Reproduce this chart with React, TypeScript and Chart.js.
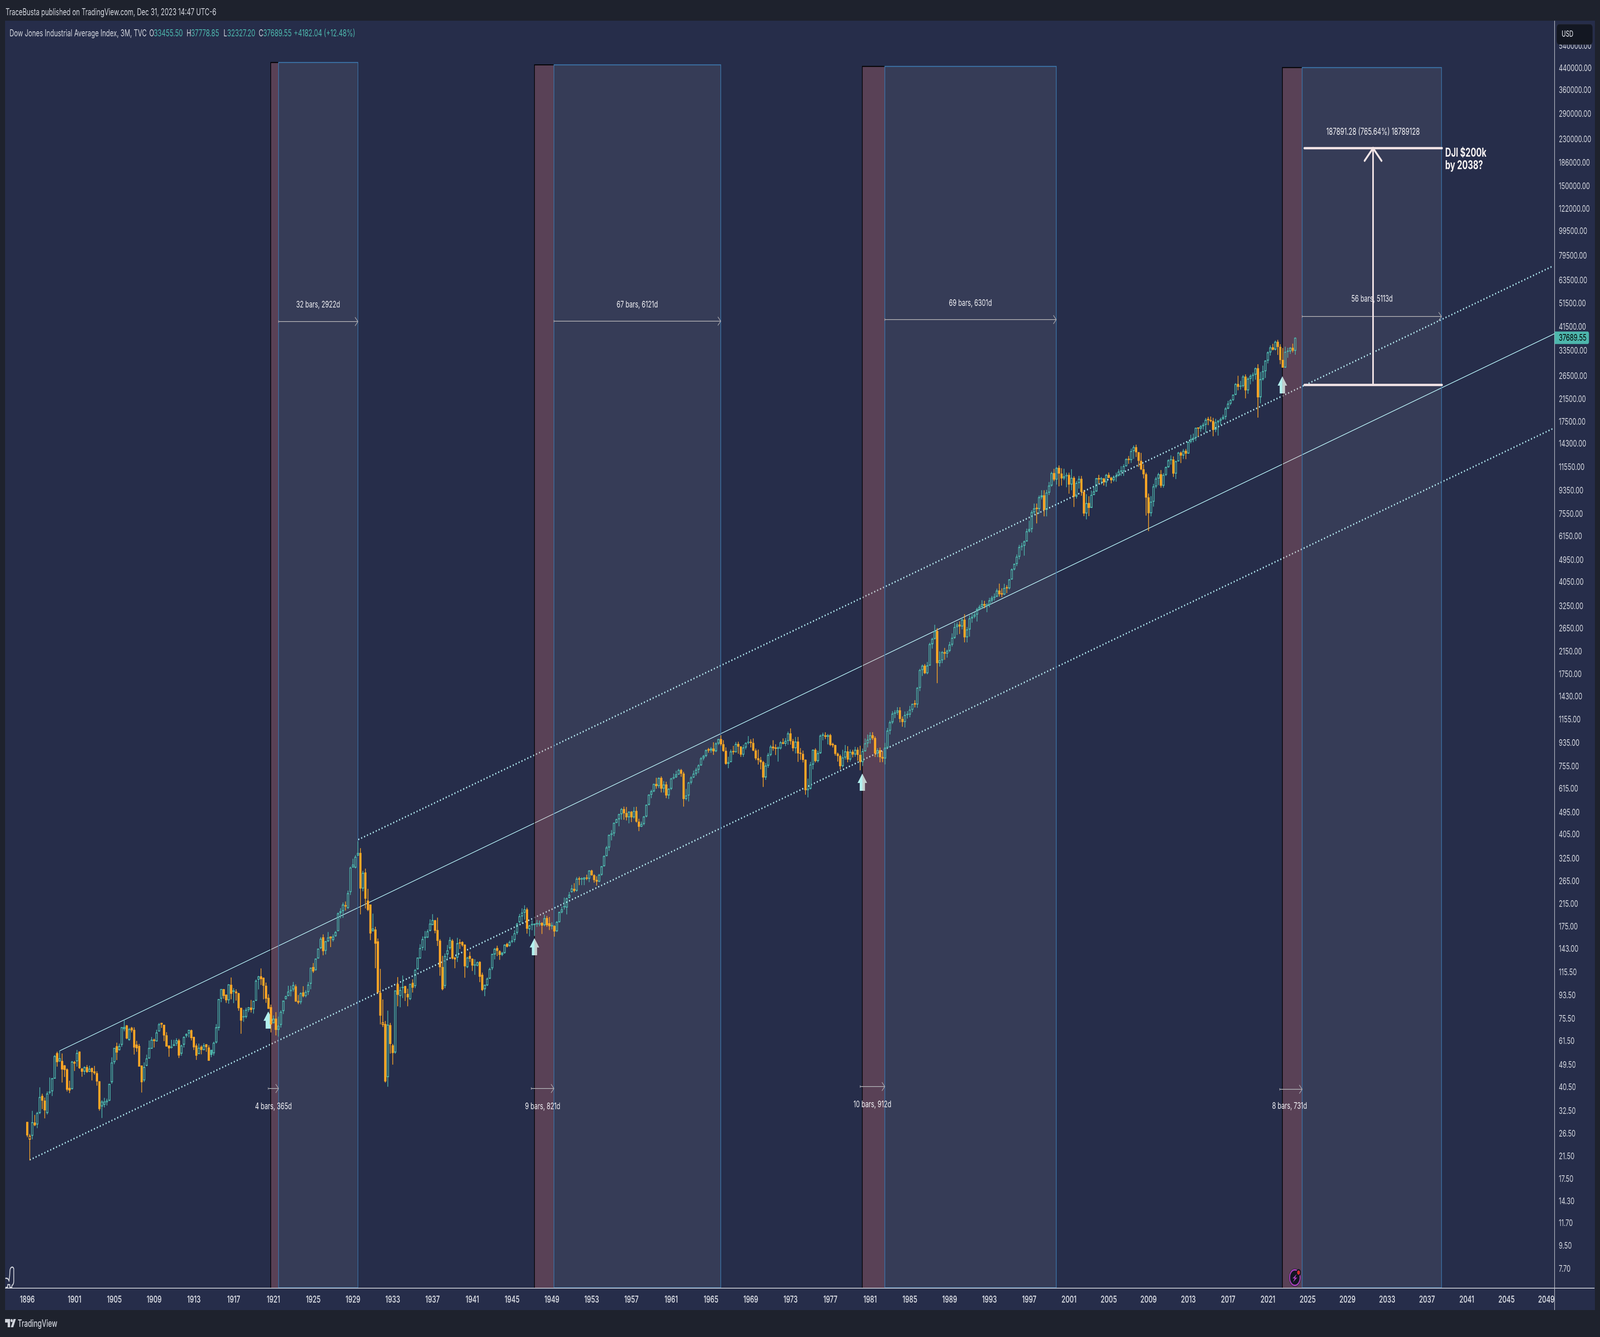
import React, { useEffect, useRef } from 'react';
import { Chart, registerables } from 'chart.js';
Chart.register(...registerables);

// Quarterly candles, [open, high, low, close]
const candles1896to1920 = [
[29.5,29.5,25.7,26.1],[25.1,26.4,20.8,26.0],[26.0,32.6,25.2,29.4],[29.3,31.4,28.4,28.6],[28.8,32.3,27.9,32.0],[32.0,40.4,31.7,37.0],[37.4,38.1,33.2,35.8],[35.8,36.8,30.5,32.8],[32.0,38.9,31.6,38.2],[38.5,44.2,38.0,38.7],
[39.0,44.0,37.4,43.9],[43.8,54.2,43.8,53.8],[55.2,55.9,48.9,50.9],[51.3,56.4,51.0,52.7],[51.4,55.0,42.3,47.6],[49.4,49.5,44.5,47.4],[47.6,48.0,39.0,39.6],[40.2,42.9,38.4,39.3],[39.8,51.4,39.7,51.1],[50.9,51.4,47.0,50.2],
[51.3,56.8,48.9,55.3],[56.0,56.0,47.9,48.2],[47.9,48.2,44.6,46.7],[46.7,48.9,45.4,48.6],[48.6,49.5,46.2,46.5],[46.6,49.2,46.5,47.9],[48.2,48.3,43.1,46.5],[46.8,49.1,45.4,46.0],[46.0,46.8,41.1,42.7],[42.7,42.7,32.7,33.2],
[34.0,35.9,30.6,35.5],[34.5,36.7,33.7,35.5],[35.3,36.4,34.3,35.8],[35.8,41.7,35.7,41.7],[42.4,53.1,41.8,50.7],[50.9,57.9,50.0,57.9],[58.8,60.7,51.9,55.6],[56.8,60.2,56.6,58.9],[59.6,70.0,58.6,70.0],[68.8,74.7,67.5,70.1],
[71.1,71.3,62.8,63.2],[62.3,69.5,61.9,68.8],[69.6,70.1,66.8,68.0],[68.3,69.8,54.6,58.2],[59.7,61.7,56.0,57.8],[58.9,60.0,48.9,48.9],[49.3,49.3,38.6,42.4],[43.1,50.7,42.5,48.7],[49.2,54.4,49.1,52.6],[52.6,61.9,52.6,57.9],
[57.5,63.9,57.5,62.4],[62.5,63.0,58.2,61.7],[61.5,68.3,61.5,66.7],[67.3,72.6,67.3,71.9],[72.8,72.8,69.6,71.7],[71.5,71.5,61.7,64.9],[65,66.8,58.7,58.7],[59.2,59.2,53.5,57.7],[58,62.3,57.7,58.6],[59,62.3,59,59.9],
[60.3,63.2,59.1,62.1],[62,62.8,52.9,54.1],[55,59.6,54,59.2],[59.7,64.3,58.2,64],[64.6,66,63.7,65.8],[66.1,68.3,63.9,68.2],[68.1,68.4,62.1,63.4],[64,64.1,56.9,58.3],[59.2,60.2,52,54],[54.8,60.2,54.8,58],
[58.5,59.2,54.7,56.9],[56.8,60.4,56.8,59.3],[59.9,59.9,56,58.4],[58.1,59.3,51.6,51.6],[56.9,56.9,53.3,54.4],[55.2,61.2,54.1,60.7],[60.9,71.9,60.4,69.9],[69.6,90.4,67.9,90.4],[90.8,99.1,88,99.1],[99,99,90.8,93.1],
[94,94.3,87.5,89.5],[89.5,103.5,86.8,103.4],[103,110,90.4,95],[96.7,99.8,87.3,96.9],[96.9,98.8,89.3,95.4],[95.3,95.7,81.4,83.2],[83.5,83.5,66,74.3],[76.6,82,73.6,76.9],[76.9,83.5,75.9,82],[81.8,84,80.4,83.9],
[83.7,89.6,80.1,82],[82.5,89,79.3,88.9],[89.1,108,89,106.9],[108,111.7,98.9,111.2],[111.3,119.5,103,108.5],[109.8,110,90.4,102.2],[102,105,87.5,90.8],[91.4,94.4,82.8,82.8],[84,85.9,66.8,71.8],
];
const candles1921to1951 = [
[72.6,77.8,72.6,75.6],[75.6,80.2,65,68.3],[68.3,77,64.3,71],[71.5,81.5,69.8,80.5],[81.1,89.1,79,89.1],[90.4,93.2,90.2,92.8],[93,102,93,96.9],[97.3,102,92.8,98.2],[98.8,105.6,97,102.8],[101.6,103.2,88.4,88.4],
[88.9,93.8,86.4,87.6],[87.9,96,86.4,95.5],[96.1,101.6,92,92.8],[93,98,92,96.5],[96.5,105.6,94,103.1],[104,120.4,99,120.4],[121,125.5,115,116.5],[117.8,130.8,117.2,130.8],[131,143.2,131,143.2],[144,159,143,156.8],
[158.8,163,135,140],[140.5,153.5,136,153.3],[153.3,166.6,152.5,158.6],[160,160,145.5,157.5],[155,163,153,160],[160.5,168,160,166.6],[168.2,199,168,197.7],[198,207,189,201.5],[202,218,190,214],[211,220,203,210.6],
[207.5,243,206,237.6],[240,302.5,234,300.2],[301,325,300,308.4],[300,336,298,331.3],[335,381.17,334,343],[343,358,196,248],[248,291,242,286],[287,297,207,226],[222,247,202,204],[214,214,155,164.6],
[168,197,168,172.1],[170.5,174.8,120,150],[153,157,95,96.2],[95.7,119,71.9,77.8],[71.5,90,70.2,73.2],[72,74,42.3,42.7],[44.4,81.3,40.7,71.6],[71.3,72.7,55.1,60.1],[59.3,60,49.8,55.3],[55.6,97.8,55,97.8],
[103.8,110.4,84.8,94],[93,101,84,98.3],[100,112,91.4,100.3],[101.8,102,89,95.5],[94.7,99.3,84.8,92],[90.4,104,89.7,103.8],[104.9,108.2,96.1,100.4],[101.8,118.8,100,118],[118.8,132,118.5,132],[131,149,131,144],
[144.3,160,141,156.3],[158,168,141,158.8],[158.6,170.5,158,167.8],[168.6,187,168,180],[177.8,196,177.5,186],[185.5,186,165,169],[169.7,190,147,154],[154,156,112,121],[121,134,98,99],[102,137,100,134],
[136,148,130,141],[144,159,142,155],[154,156,130,131],[132,133,120,130],[132,158,127,150.4],[151,156,143,150.1],[152,153,146,147.8],[148.5,149,110,122],[121,133,120,132],[134,139,127,130.8],
[130.5,131,117,122.8],[122.7,130,113,123.3],[122.7,127.3,122,126.5],[127,127.5,105.7,111],[112.9,115,97.4,98.3],[99,103,93,103],[102.5,110,102,109],[109,120.3,108.8,119],[119.8,136.5,118,136.5],[136,144,130,143],
[144,147,134,140.5],[140,141,129.5,135.5],[135.5,139,134,138],[137.7,149,137,148.4],[149.5,151,145,146],[147,154,146,152.2],[152.5,161,151,153.3],[155,169.4,152,164.8],[165.6,181,163,180],[182.5,196.5,181,192.6],
[192.3,206.7,180,199],[199,212.5,187,205],[205,208,164.5,172],[171,178,160.5,177],[177.5,185,169.6,178],[177.8,180,161,178.2],[181,186,175,179],[178.8,185,176,180.4],[181,182,164,177],[177.6,195,176,189],
[189.5,193,175,177.6],[180.4,191,170,176],[175.8,182,171,176.7],[176.3,177,160,167.7],[168,184,167,182.8],[182.5,200.5,182,200],[199.6,210,198,205],[209,228,205,209.3],[208.5,228,196,226.8],[228,240,227,234],
[240,256,239,248],[247,260,240,243],[243,275,241,271],[272,276,256,269],
];
const candles1952to1986 = [
[270,274,256,269.5],[269,275,256,274],[274,281,268,271],[271,293,263,292],[292,294,279,280],[280,282,262,268],[268,277,255,264],[264,283,263,281],[281,304,279,303.5],[304,335,303,333.5],
[333.5,365,333,360.5],[360.5,405,350,404.4],[404.4,422,385,409.7],[410,452,400,451.4],[451,468,451,466.6],[466.6,490,438,488.4],[488.4,516,465,511.8],[511.8,523,465,492.8],[492.8,521,462,475.3],[475.3,501,450,499.5],
[499.5,502,455,474.8],[474.8,521,470,503.3],[503.3,522,453,456.3],[456.3,468,419,435.7],[435.7,456,435,446.8],[446.8,480,442,478.2],[478.2,533,475,532.1],[532.1,585,530,583.6],[583.6,610,566,601.7],[601.7,645,598,643.6],
[643.6,680,617,631.7],[631.7,683,620,679.4],[679.4,689,596,616.6],[616.6,660,596,640.6],[640.6,656,566,580.1],[580.1,618,562,615.9],[615.9,680,610,676.6],[676.6,707,672,684],[684,725,681,701.2],[701,738,700,731.1],
[731,737,688,706.9],[706.9,718,524,561.3],[561.3,615,555,579],[579,655,549,652.1],[652.1,690,642,682.5],[682.5,726,680,706.9],[706.9,745,695,732.8],[732.8,769,711,763],[763,821,760,813.3],[813.3,837,799,831.5],
[831.5,881,823,875.4],[875.4,893,857,874.1],[874.1,900,857,889],[889,940,840,868],[868,940,861,931.2],[931.2,970,920,969.3],[969.3,1001,911,924.8],[924.8,958,864,870.1],[870.1,898,768,774.2],[774.2,824,744,785.7],
[785.7,880,785,866],[866,910,842,860.3],[860.3,943,858,926.7],[926.7,945,849,905.1],[905.1,908,825,840.7],[840.7,920,825,897.8],[897.8,940,883,935.8],[935.8,995,925,943.8],[943.8,966,899,935.5],[935.5,974,869,873.2],
[873.2,888,801,813.1],[813.1,880,769,800.4],[800.4,822,736,785.6],[785.6,793,627,683.5],[683.5,778,669,760.7],[760.7,853,747,838.9],[838.9,917,830,904.4],[904.4,958,873,891.1],[891.1,923,839,887.2],[887.2,905,790,890.2],
[890.2,950,882,940.7],[940.7,974,925,929],[929,977,910,953.3],[953.3,1036,921,1020],[1020,1067,922,951],[951,969,869,891.7],[891.7,987,851,947.1],[947.1,987,788,850.9],[850.9,892,803,846.7],[846.7,872,784,802.4],
[802.4,804,584,607.9],[607.9,675,570,616.2],[616.2,786,613,768.2],[768.2,881,736,879],[879,890,784,793.9],[793.9,870,784,852.4],[852.4,1009,848,999.5],[999.5,1026,959,1002.8],[1002.8,1030,970,990.2],[990.2,1014,924,1004.7],
[1004.7,1015,911,919.1],[919.1,936,899,916.3],[916.3,919,834,847.1],[847.1,856,790,831.2],[831.2,841,736,757.4],[757.4,878,749,819],[819,917,805,865.8],[865.8,907,785,805],[805,880,790,862.2],[862.2,878,821,842],
[842,902,826,878.7],[878.7,898,796,838.7],[838.7,911,730,785.8],[785.8,888,759,867.9],[867.9,973,865,932.4],[932.4,1009,899,964],[964,1030,931,1003.9],[1003.9,1031,962,976.9],[976.9,992,824,850],[850,891,823,875],
[875,896,785,822.8],[822.8,868,786,811.9],[811.9,935,770,896.3],[896.3,1071,892,1046.5],[1046.5,1145,1012,1130],[1130,1248,1114,1222],[1222,1260,1175,1233],[1233,1295,1210,1258.9],[1258.9,1295,1130,1164.9],[1164.9,1190,1086,1132.4],
[1132.4,1245,1078,1206.7],[1206.7,1250,1170,1211.6],[1211.6,1310,1184,1266.8],[1266.8,1338,1240,1335.5],[1335.5,1380,1295,1328.6],[1328.6,1555,1290,1546.7],[1546.7,1836,1502,1818.6],[1818.6,1911,1725,1892.7],[1892.7,1920,1755,1767.6],[1767.6,1956,1752,1896],
];
const candles1987to2004 = [
[1896,2330,1896,2304.7],[2304.7,2440,2215,2418.5],[2418.5,2746,2407,2596.3],[2596.3,2662,1616,1938.8],[1938.8,2153,1879,1988.1],[1988.1,2160,1940,2141.7],[2141.7,2223,2000,2112.9],[2112.9,2190,2039,2168.6],
[2168.6,2350,2144,2293.6],[2293.6,2540,2259,2440.1],[2440.1,2792,2420,2692.8],[2692.8,2810,2510,2753.2],[2753.2,2834,2530,2707.2],[2707.2,2935,2640,2880.7],[2880.7,3025,2344,2452.5],[2452.5,2690,2344,2633.7],
[2633.7,2990,2470,2913.9],[2913.9,3057,2805,2958.4],[2958.4,3081,2920,3016.8],[3016.8,3204,2836,3168.8],[3168.8,3291,3140,3235.5],[3235.5,3435,3180,3318.5],[3318.5,3416,3200,3271.7],[3271.7,3342,3087,3301.1],
[3301.1,3513,3230,3435.1],[3435.1,3573,3370,3516.1],[3516.1,3656,3435,3555.1],[3555.1,3818,3540,3754.1],[3754.1,3998,3560,3636],[3636,3830,3540,3625],[3625,3990,3610,3843.2],[3843.2,3940,3675,3834.4],
[3834.4,4170,3800,4157.7],[4157.7,4590,4150,4556.1],[4556.1,4800,4520,4789.1],[4789.1,5215,4700,5117.1],[5117.1,5690,5000,5587.1],[5587.1,5800,5420,5654.6],[5654.6,5920,5170,5882.2],[5882.2,6600,5880,6448.3],
[6448.3,7100,6390,6583.5],[6583.5,7800,6390,7672.8],[7672.8,8300,7550,7945.3],[7945.3,8300,6940,7908.3],[7908.3,8930,7580,8799.8],[8799.8,9370,8630,8952],[8952,9370,7400,7842.6],[7842.6,9400,7400,9181.4],
[9181.4,10100,8990,9786.2],[9786.2,11090,9700,10970.8],[10970.8,11390,10200,10337],[10337,11570,9880,11497.1],[11497.1,11750,9730,10921.9],[10921.9,11450,9800,10447.9],[10447.9,11400,10300,10650.9],[10650.9,11000,9650,10786.9],
[10786.9,11000,9100,9878.8],[9878.8,11350,9390,10502.4],[10502.4,10650,8062,8847.6],[8847.6,10200,8700,10021.5],[10021.5,10670,9530,10403.9],[10403.9,10670,8930,9243.3],[9243.3,9400,7417,7591.9],[7591.9,9040,7197,8341.6],
[8341.6,8870,7416,7992.1],[7992.1,9340,7990,8985.4],[8985.4,9690,8980,9275.1],[9275.1,10480,9260,10453.9],[10453.9,10780,10000,10357.7],[10357.7,10570,9900,10435.5],[10435.5,10480,9800,10080.3],[10080.3,10870,9700,10783],
];
const candles2005to2023 = [
[10783,11010,10470,10503.8],[10503.8,10590,10000,10275],[10275,10720,10150,10568.7],[10568.7,11000,10150,10717.5],[10717.5,11340,10650,11109.3],[11109.3,11670,10700,11150.2],[11150.2,11870,10700,11679.1],[11679.1,12530,11650,12463.2],
[12463.2,12800,11940,12354.4],[12354.4,13700,12050,13408.6],[13408.6,14100,12500,13895.6],[13895.6,14198,12720,13264.8],[13264.8,13280,11630,12262.9],[12262.9,13170,11280,11350],[11350,11870,10460,10850.7],[10850.7,11000,7450,8776.4],
[8776.4,9090,6470,7608.9],[7608.9,8880,7400,8447],[8447,9920,8090,9712.3],[9712.3,10580,9560,10428.1],[10428.1,10980,9840,10856.6],[10856.6,11260,9610,9774],[9774,10950,9610,10788.1],[10788.1,11630,10700,11577.5],
[11577.5,12420,11530,12319.7],[12319.7,12880,11860,12414.3],[12414.3,12750,10600,10913.4],[10913.4,12280,10400,12217.6],[12217.6,13300,12200,13212],[13212,13340,12030,12880.1],[12880.1,13660,12490,13437.1],[13437.1,13660,12470,13104.1],
[13104.1,14590,13100,14578.5],[14578.5,15540,14400,14909.6],[14909.6,15710,14550,15129.7],[15129.7,16590,14720,16576.7],[16576.7,16590,15340,16457.7],[16457.7,16970,16000,16826.6],[16826.6,17350,16330,17042.9],[17042.9,18100,15860,17823.1],
[17823.1,18290,17000,17776.1],[17776.1,18350,17460,17619.5],[17619.5,18140,15370,16284.7],[16284.7,17980,15950,17425],[17425,17790,15450,17685.1],[17685.1,18170,17060,17930],[17930,18670,17890,18308.2],[18308.2,19990,17880,19762.6],
[19762.6,21170,19680,20663.2],[20663.2,21530,20380,21349.6],[21349.6,22420,21200,22405.1],[22405.1,24880,22340,24719.2],[24719.2,26620,23360,24103.1],[24103.1,25400,23530,24271.4],[24271.4,26770,23990,26458.3],[26458.3,26950,21710,23327.5],
[23327.5,26240,22640,25928.7],[25928.7,26950,24680,26600],[26600,27400,25340,26916.8],[26916.8,28700,25740,28538.4],[28538.4,29570,18214,21917.2],[21917.2,27580,20740,25812.9],[25812.9,29200,25520,27781.7],[27781.7,30640,26140,30606.5],
[30606.5,33230,29860,32981.6],[32981.6,35090,32070,34502.5],[34502.5,35630,33610,33843.9],[33843.9,36680,33610,36338.3],[36338.3,36950,32270,34678.4],[34678.4,35490,29650,30775.4],[30775.4,34280,28720,28725.5],[28725.5,34710,28660,33147.3],
[33147.3,34340,31430,33274.2],[33274.2,34590,32580,34407.6],[34407.6,35680,33000,33507.5],[33455.5,37778.85,32327.2,37689.55],
];

const firstBarYear = 1896.25;
const priceTicks = [540000,440000,360000,290000,230000,186000,150000,122000,99500,79500,63500,51500,41500,33500,26500,21500,17500,14300,11550,9350,7550,6150,4950,4050,3250,2650,2150,1750,1430,1155,935,755,615,495,405,325,265,215,175,143,115.5,93.5,75.5,61.5,49.5,40.5,32.5,26.5,21.5,17.5,14.3,11.7,9.5,7.7];
const yearTicks = [1896.25,1901,1905,1909,1913,1917,1921,1925,1929,1933,1937,1941,1945,1949,1953,1957,1961,1965,1969,1973,1977,1981,1985,1989,1993,1997,2001,2005,2009,2013,2017,2021,2025,2029,2033,2037,2041,2045,2049];

// Channel lines: [year, price] end points
const channelMiddle = [[1899.48,56.35],[2049.83,39124]];
const channelUpper = [[1929.53,387.4],[2049.67,72500]];
const channelLower = [[1896.5,20.86],[2049.67,16460]];

// Highlighted cycles
const redStarts = [1920.73,1947.25,1980.22,2022.46];
const blueStarts = [1921.52,1949.21,1982.48,2024.45];
const blueEnds = [1929.5,1965.98,1999.72,2038.46];
const regionTops = [464200,454300,447900,443100];
const upArrowYears = [1920.48,1947.25,1980.22,2022.46];
const upArrowPrices = [80.8,157.7,707.6,26540];
const shortLabels = ['4 bars, 365d','9 bars, 821d','10 bars, 912d','8 bars, 731d'];
const shortArrowStarts = [1920.47,1946.93,1980,2022.19];
const longLabels = ['32 bars, 2922d','67 bars, 6121d','69 bars, 6301d','56 bars, 5113d'];

const targetLow = 24500;
const targetHigh = 212391;
const lastClose = 37689.55;

const TEAL = '#4db6ac', ORANGE = '#ffa726', CYAN = '#b2ebf2', TEXT = '#d1d4dc';
const PANEL = '#262d4a', OUTER = '#1e222d';
const FONT = 'Inter, "Noto Sans", sans-serif';
const DESIGN_W = 6056, DESIGN_H = 3422;

const candles = [...candles1896to1920, ...candles1921to1951, ...candles1952to1986, ...candles1987to2004, ...candles2005to2023];
const barYear = (i: number) => firstBarYear + i * 0.25;
const colorOf = (i: number) => {
  const prev = i > 0 ? candles[i - 1][3] : candles[i][0];
  return candles[i][3] >= prev ? TEAL : ORANGE;
};
const perBar = candles.map((_, i) => colorOf(i));
const lineData = (pts: number[][]) => pts.map(([x, y]) => ({ x, y }));

function text(ctx: any, s: string, x: number, y: number, font: string, color: string, align: any = 'left') {
  ctx.font = font; ctx.fillStyle = color; ctx.textAlign = align; ctx.textBaseline = 'middle';
  ctx.fillText(s, x, y);
}

const overlay = {
  id: 'tvOverlay',
  beforeDraw(chart: any) {
    const c = chart.ctx;
    c.save();
    c.fillStyle = OUTER; c.fillRect(0, 0, chart.width, chart.height);
    c.fillStyle = PANEL; c.fillRect(19, 53, 6018, 3300);
    c.restore();
  },
  beforeDatasetDraw(chart: any, args: any) {
    if (chart.data.datasets[args.index].label !== 'wickHigh') return;
    const c = chart.ctx, X = chart.scales.x, Y = chart.scales.y, bottom = Y.bottom;
    c.save();
    redStarts.forEach((yr, i) => {
      const x0 = X.getPixelForValue(yr), x1 = X.getPixelForValue(blueStarts[i]), x2 = X.getPixelForValue(blueEnds[i]);
      const top = Y.getPixelForValue(regionTops[i]);
      c.fillStyle = 'rgba(242,129,122,0.25)'; c.fillRect(x0, top, x1 - x0, bottom - top);
      c.strokeStyle = '#000000'; c.lineWidth = 2.5;
      c.beginPath(); c.moveTo(x1, top); c.lineTo(x0, top); c.lineTo(x0, bottom); c.stroke();
      c.fillStyle = 'rgba(255,255,255,0.075)'; c.fillRect(x1, top, x2 - x1, bottom - top);
      c.strokeStyle = '#3c74a8'; c.lineWidth = 2.5; c.strokeRect(x1, top, x2 - x1, bottom - top);
    });
    // up arrows sit above the region border; the part inside the red band reads grey
    upArrowYears.forEach((yr, i) => {
      const x = X.getPixelForValue(yr), y = Y.getPixelForValue(upArrowPrices[i]), edge = X.getPixelForValue(redStarts[i]);
      const shape = () => {
        c.beginPath();
        c.moveTo(x, y); c.lineTo(x + 18, y + 24); c.lineTo(x + 10, y + 24); c.lineTo(x + 10, y + 44);
        c.lineTo(x - 10, y + 44); c.lineTo(x - 10, y + 24); c.lineTo(x - 18, y + 24); c.closePath(); c.fill();
      };
      c.save(); c.beginPath(); c.rect(x - 30, y - 5, edge - (x - 30), 60); c.clip(); c.fillStyle = '#b2f0ee'; shape(); c.restore();
      c.save(); c.beginPath(); c.rect(edge, y - 5, 60, 60); c.clip(); c.fillStyle = '#c3cfcf'; shape(); c.restore();
    });
    c.restore();
  },
  afterDatasetsDraw(chart: any) {
    const c = chart.ctx, X = chart.scales.x, Y = chart.scales.y;
    c.save();
    const dateArrow = (x0: number, x1: number, y: number) => {
      c.strokeStyle = '#a9a8ae'; c.lineWidth = 2;
      c.beginPath(); c.moveTo(x0, y); c.lineTo(x1, y);
      c.moveTo(x1 - 11, y - 11); c.lineTo(x1, y); c.lineTo(x1 - 11, y + 11);
      c.moveTo(x0, y - 3); c.lineTo(x0, y + 3); c.stroke();
    };
    const f = `23px ${FONT}`, white = '#eeeef2';
    [2786, 2786, 2781, 2788].forEach((y, i) => {
      const x0 = X.getPixelForValue(shortArrowStarts[i]), x1 = X.getPixelForValue(blueStarts[i]);
      dateArrow(x0, x1, y);
    });
    [[shortLabels[0], 1035, 2832], [shortLabels[1], 2054, 2832], [shortLabels[2], 3302, 2827], [shortLabels[3], 4881, 2831]].forEach(([s, x, y]: any) => text(c, s, x, y, f, white, 'center'));
    [823, 822, 818, 810].forEach((y, i) => {
      dateArrow(X.getPixelForValue(blueStarts[i]), X.getPixelForValue(blueEnds[i]), y);
    });
    [[longLabels[0], 1204, 780], [longLabels[1], 2412, 780], [longLabels[2], 3673, 776], [longLabels[3], 5193, 765]].forEach(([s, x, y]: any) => text(c, s, x, y, f, white, 'center'));
    text(c, '187891.28 (765.64%) 18789128', 5197, 338, `24px ${FONT}`, white, 'center');
    const x0 = 4937, x1 = 5458, mid = 5197, yT = Y.getPixelForValue(targetHigh), yB = Y.getPixelForValue(targetLow);
    c.strokeStyle = '#f2e4e6'; c.lineWidth = 6; c.lineCap = 'round';
    c.beginPath();
    c.moveTo(x0, yT); c.lineTo(x1, yT); c.moveTo(x0, yB); c.lineTo(x1, yB);
    c.moveTo(mid, yB); c.lineTo(mid, yT);
    c.moveTo(mid - 32, yT + 32); c.lineTo(mid, yT); c.lineTo(mid + 32, yT + 32);
    c.stroke();
    text(c, 'DJI $200k', 5470, 392, `700 31px ${FONT}`, '#f5f1f1');
    text(c, 'by 2038?', 5470, 424, `700 31px ${FONT}`, '#f5f1f1');
    c.restore();
  },
  afterDraw(chart: any) {
    const c = chart.ctx, Y = chart.scales.y;
    c.save();
    c.strokeStyle = TEXT; c.lineWidth = 2;
    c.beginPath(); c.moveTo(19, 3297); c.lineTo(6035, 3297); c.moveTo(5884, 53); c.lineTo(5884, 3353); c.stroke();
    c.fillStyle = '#131722'; c.beginPath(); c.roundRect(5892, 62, 136, 52, 9); c.fill();
    c.strokeStyle = '#2a2e39'; c.lineWidth = 1; c.stroke();
    text(c, 'USD', 5911, 88, `500 21px ${FONT}`, TEXT);
    const yL = Y.getPixelForValue(lastClose);
    c.fillStyle = '#4db6ac'; c.beginPath(); c.roundRect(5884, yL - 16, 130, 32, [0, 5, 5, 0]); c.fill();
    text(c, lastClose.toFixed(2), 5900, yL, `23.4px ${FONT}`, '#000000');
    text(c, 'TraceBusta published on TradingView.com, Dec 31, 2023 14:47 UTC-6', 21, 32, `24px ${FONT}`, TEXT);
    const lg = `24px ${FONT}`;
    text(c, 'Dow Jones Industrial Average Index, 3M, TVC', 36, 86, lg, TEXT);
    text(c, 'O', 565, 86, lg, TEXT); text(c, '33455.50', 582, 86, lg, TEAL);
    text(c, 'H', 706, 86, lg, TEXT); text(c, '37778.85', 723, 86, lg, TEAL);
    text(c, 'L', 846, 86, lg, TEXT); text(c, '32327.20', 860, 86, lg, TEAL);
    text(c, 'C', 979, 86, lg, TEXT); text(c, '37689.55', 996, 86, lg, TEAL);
    text(c, '+4182.04 (+12.48%)', 1112, 86, lg, TEAL);
    c.fillStyle = TEXT;
    c.fillRect(19, 3376, 19, 9); c.fillRect(29, 3376, 9, 21);
    c.beginPath(); c.arc(44, 3380, 4, 0, Math.PI * 2); c.fill();
    c.beginPath(); c.moveTo(51, 3376); c.lineTo(60, 3376); c.lineTo(50, 3397); c.lineTo(41, 3397); c.closePath(); c.fill();
    text(c, 'TradingView', 67, 3388, `500 25px ${FONT}`, TEXT);
    c.strokeStyle = TEXT; c.lineWidth = 3; c.lineJoin = 'round';
    c.beginPath();
    c.moveTo(20, 3272); c.quadraticCurveTo(31, 3270, 34, 3279);
    c.bezierCurveTo(36, 3270, 37, 3260, 38, 3250);
    c.quadraticCurveTo(40, 3243, 47, 3243); c.quadraticCurveTo(53, 3244, 52, 3252);
    c.lineTo(52, 3280); c.quadraticCurveTo(51, 3289, 45, 3290); c.lineTo(45, 3295); c.lineTo(37, 3295);
    c.lineTo(37, 3288); c.lineTo(29, 3288); c.lineTo(29, 3295); c.lineTo(21, 3295); c.stroke();
    c.fillStyle = '#131722'; c.beginPath(); c.arc(4901, 3270, 23, 0, Math.PI * 2); c.fill();
    c.strokeStyle = '#a63fb8'; c.lineWidth = 4; c.beginPath(); c.arc(4901, 3270, 20, 0, Math.PI * 2); c.stroke();
    c.fillStyle = '#a63fb8'; c.beginPath();
    c.moveTo(4908, 3261); c.lineTo(4892, 3272); c.lineTo(4900, 3272); c.lineTo(4894, 3282); c.lineTo(4910, 3270); c.lineTo(4902, 3270); c.closePath(); c.fill();
    c.fillStyle = '#131722'; c.beginPath(); c.arc(4915, 3257, 9, 0, Math.PI * 2); c.fill();
    c.fillStyle = '#d32f2f'; c.beginPath(); c.arc(4915, 3257, 5.5, 0, Math.PI * 2); c.fill();
    c.restore();
  },
};

export default function App() {
  const ref = useRef<HTMLCanvasElement | null>(null);
  useEffect(() => {
    document.documentElement.style.margin = '0';
    document.body.style.margin = '0';
    const chart = new Chart(ref.current as any, {
      type: 'bar',
      plugins: [overlay],
      data: {
        datasets: [
          { type: 'line', label: 'channelMiddle', order: 10, data: lineData(channelMiddle), borderColor: CYAN, borderWidth: 2, pointRadius: 0 },
          { type: 'line', label: 'channelUpper', order: 10, data: lineData(channelUpper), borderColor: CYAN, borderWidth: 4, borderDash: [4, 7.6], pointRadius: 0 },
          { type: 'line', label: 'channelLower', order: 10, data: lineData(channelLower), borderColor: CYAN, borderWidth: 4, borderDash: [4, 7.6], pointRadius: 0 },
          { label: 'wickHigh', order: 4, grouped: false, barThickness: 2, borderWidth: 0,
            data: candles.map((k, i) => ({ x: barYear(i), y: [Math.max(k[0], k[3]), Math.max(k[1], k[0], k[3])] })), backgroundColor: perBar },
          { label: 'wickLow', order: 3, grouped: false, barThickness: 2, borderWidth: 0,
            data: candles.map((k, i) => ({ x: barYear(i), y: [Math.min(k[2], k[0], k[3]), Math.min(k[0], k[3])] })), backgroundColor: perBar },
          { label: 'body', order: 1, grouped: false, barThickness: 8, borderWidth: 2, borderSkipped: false, minBarLength: 3,
            data: candles.map((k, i) => ({ x: barYear(i), y: [Math.min(k[0], k[3]), Math.max(k[0], k[3])] })),
            borderColor: perBar,
            backgroundColor: candles.map((k, i) => (k[3] > k[0] ? 'rgba(0,0,0,0)' : perBar[i])) },
        ],
      } as any,
      options: {
        animation: false,
        responsive: false,
        devicePixelRatio: 1,
        layout: { padding: { left: 19, top: 53, right: 19, bottom: 69 } },
        plugins: { legend: { display: false }, tooltip: { enabled: false } },
        events: [],
        scales: {
          x: {
            type: 'linear', offset: false, min: 1894.01, max: 2049.83,
            grid: { display: false, drawTicks: false }, border: { display: false },
            afterBuildTicks: (a: any) => { a.ticks = yearTicks.map((value) => ({ value })); },
            afterFit: (s: any) => { s.height = 57; },
            ticks: { autoSkip: false, maxRotation: 0, minRotation: 0, padding: 16, color: TEXT, font: { family: 'Inter', size: 24, weight: '600' },
              callback: (v: any) => String(Math.floor(Number(v))) },
          },
          y: {
            type: 'logarithmic', position: 'right', min: 6.497, max: 679600,
            grid: { display: false, drawTicks: false }, border: { display: false },
            afterBuildTicks: (a: any) => { a.ticks = priceTicks.map((value) => ({ value })); },
            afterFit: (s: any) => { s.width = 153; },
            ticks: { autoSkip: false, padding: 16, color: TEXT, font: { family: 'Inter', size: 23.4 }, crossAlign: 'near',
              callback: (v: any) => Number(v).toFixed(2) },
          },
        },
      } as any,
    });
    return () => chart.destroy();
  }, []);
  // The drawing is always 6056x3422; when the browser's window is narrower it is fitted to the window.
  const shownW = Math.min(DESIGN_W, window.innerWidth);
  const shownH = Math.min(DESIGN_H, window.innerHeight);
  return <canvas ref={ref} width={DESIGN_W} height={DESIGN_H} style={{ position: 'absolute', left: 0, top: 0, width: shownW, height: shownH, display: 'block' }} />;
}
